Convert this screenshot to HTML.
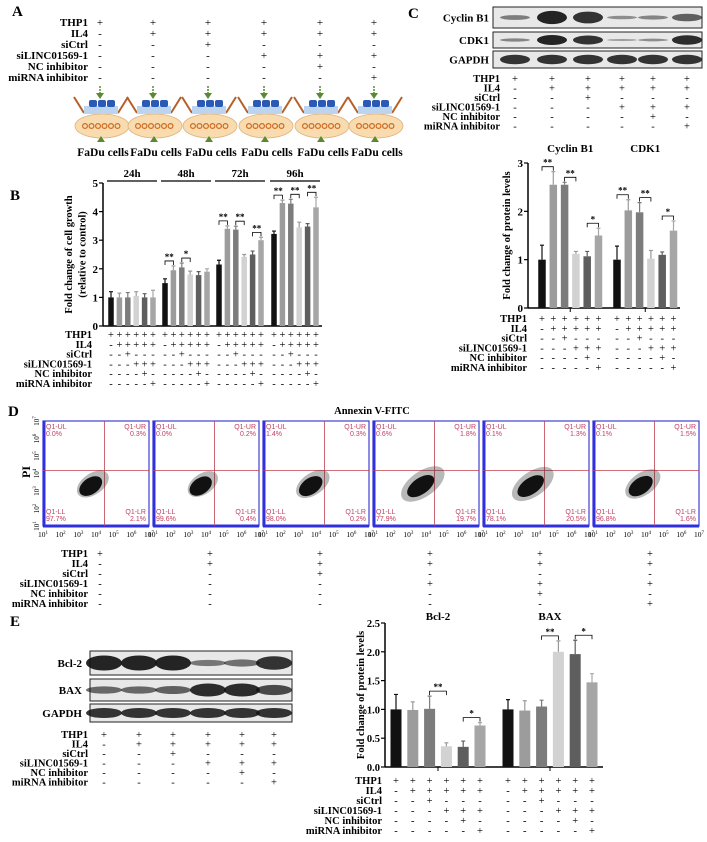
<!DOCTYPE html>
<html><head><meta charset="utf-8"><style>
body{margin:0;background:#fff;}
svg{display:block;font-family:"Liberation Serif",serif;font-weight:bold;}
</style></head><body>
<svg id="fig" width="707" height="842" viewBox="0 0 707 842">
<text x="12" y="16" font-size="15">A</text>
<text x="10" y="200" font-size="15">B</text>
<text x="408" y="18" font-size="15">C</text>
<text x="8" y="416" font-size="15">D</text>
<text x="10" y="626" font-size="15">E</text>
<g id="root"></g>
</svg>
<script>
const NS="http://www.w3.org/2000/svg";
const root=document.getElementById('root');
function mk(tag,attrs,parent,txt){const e=document.createElementNS(NS,tag);for(const k in attrs)e.setAttribute(k,attrs[k]);if(txt!==undefined)e.textContent=txt;(parent||root).appendChild(e);return e;}

const condNames=["THP1","IL4","siCtrl","siLINC01569-1","NC inhibitor","miRNA inhibitor"];
const condMatrix=[["+","+","+","+","+","+"],["-","+","+","+","+","+"],["-","-","+","-","-","-"],["-","-","-","+","+","+"],["-","-","-","-","+","-"],["-","-","-","-","-","+"]];

function condTable(name,labelX,rowY,cols,fs,showLabels){
  const g=mk('g',{});
  
  
  condNames.forEach((n,r)=>{
    if(showLabels!==false){const t=mk('text',{x:labelX,y:rowY[r],'font-size':fs,'text-anchor':'end'},g,n);
    
    }
    cols.forEach((cx,c)=>{const t=mk('text',{x:cx,y:rowY[r],'font-size':fs,'text-anchor':'middle','font-weight':'normal'},g,condMatrix[r][c%6]);
      
      });
  });
}
function rows(y0,dy){return [0,1,2,3,4,5].map(i=>y0+i*dy);}

/* ---------- Panel A ---------- */
const aCols=[100,153,208,264,320,374];
condTable('panel-a-conditions',88,rows(26,11),aCols,11);
aCols.forEach((cx,i)=>{
  const g=mk('g',{});
  
  
  mk('line',{x1:cx,y1:86,x2:cx,y2:95,stroke:'#5a8a30','stroke-width':1.5,'stroke-dasharray':'2,1'},g);
  mk('path',{d:`M${cx-4} 93 L${cx+4} 93 L${cx} 99 Z`,fill:'#5a8a30'},g);
  mk('ellipse',{cx:cx+2,cy:126,rx:27,ry:12,fill:'#f8dcb0',stroke:'#e0b07a','stroke-width':0.8},g);
  mk('path',{d:`M${cx-26} 97 L${cx-16} 113 M${cx+28} 97 L${cx+18} 113`,stroke:'#b5602a','stroke-width':2,fill:'none'},g);
  mk('rect',{x:cx-16,y:106,width:34,height:8,fill:'#bcd4ee'},g);
  for(let k=0;k<3;k++)mk('rect',{x:cx-11+k*9,y:100,width:8,height:7,rx:2,fill:'#2a5ab5'},g);
  for(let k=0;k<6;k++)mk('circle',{cx:cx-15+k*6.5,cy:126,r:2.4,fill:'none',stroke:'#d06a20','stroke-width':1.2},g);
  mk('path',{d:`M${cx-3} 142 L${cx+5} 142 L${cx+1} 136 Z`,fill:'#5a8a30'},g);
  const t=mk('text',{x:cx+3,y:156,'font-size':11.5,'text-anchor':'middle'},g,'FaDu cells');
  
  
});

/* ---------- Blots ---------- */
function blot(name,x,y,w,h,bands,cols,label,lx,rx){
  const g=mk('g',{});
  
  
  mk('rect',{x:x,y:y,width:w,height:h,fill:'#e8e8e8',stroke:'#222','stroke-width':1},g);
  bands.forEach((b,i)=>{mk('ellipse',{cx:cols[i],cy:y+h/2,rx:rx,ry:Math.max(1,h*0.33*b),fill:'#111',opacity:0.25+0.7*b},g);});
  mk('text',{x:lx,y:y+h/2+4,'font-size':11,'text-anchor':'end'},g,label);
}
const cCols=[515,552,588,622,653,687];
blot('blot-cyclin-b1',493,7,209,21,[0.35,0.95,0.85,0.25,0.3,0.55],cCols,'Cyclin B1',489,15);
blot('blot-cdk1',493,32,209,16,[0.3,0.95,0.85,0.15,0.25,0.9],cCols,'CDK1',489,15);
blot('blot-gapdh-c',493,51,209,17,[0.85,0.85,0.85,0.85,0.85,0.85],cCols,'GAPDH',489,15);
condTable('panel-c-blot-conditions',500,rows(82,9.5),cCols,10.5);

const eCols=[104,139,173,208,242,274];
blot('blot-bcl2',90,651,202,24,[0.95,0.95,0.95,0.4,0.45,0.85],eCols,'Bcl-2',82,18);
blot('blot-bax',90,679,202,22,[0.5,0.5,0.55,0.9,0.9,0.7],eCols,'BAX',82,18);
blot('blot-gapdh-e',90,704,202,18,[0.85,0.85,0.85,0.85,0.85,0.85],eCols,'GAPDH',82,18);
condTable('panel-e-blot-conditions',88,rows(738,9.5),eCols,10.5);

/* ---------- Bar charts ---------- */
const barColors=['#111111','#9c9c9c','#7c7c7c','#d2d2d2','#5e5e5e','#a6a6a6'];

// Panel B data
const bGroups=["24h","48h","72h","96h"];
const bValues=[[1.0,1.0,1.0,1.05,1.0,1.0],[1.5,1.95,2.05,1.8,1.78,1.9],[2.15,3.4,3.37,2.42,2.5,3.0],[3.22,4.3,4.28,3.45,3.48,4.15]];
const bErrors=[[0.2,0.15,0.17,0.15,0.13,0.25],[0.15,0.15,0.15,0.12,0.12,0.1],[0.15,0.1,0.12,0.08,0.12,0.1],[0.1,0.1,0.15,0.18,0.1,0.35]];
const bTicks=[0,1,2,3,4,5];
const bSig=[[],[[0,1,"**"],[2,3,"*"]],[[0,1,"**"],[2,3,"**"],[4,5,"**"]],[[0,1,"**"],[2,3,"**"],[4,5,"**"]]];

// Panel C data
const cGroups=["Cyclin B1","CDK1"];
const cValues=[[1.0,2.55,2.55,1.12,1.07,1.5],[1.0,2.02,1.98,1.02,1.1,1.6]];
const cErrors=[[0.3,0.27,0.05,0.05,0.1,0.15],[0.28,0.22,0.2,0.17,0.06,0.2]];
const cTicks=[0,1,2,3];
const cSig=[[[0,1,"**"],[2,3,"**"],[4,5,"*"]],[[0,1,"**"],[2,3,"**"],[4,5,"*"]]];

// Panel E data
const eGroups=["Bcl-2","BAX"];
const eValues=[[1.0,0.99,1.01,0.36,0.35,0.72],[1.0,0.98,1.05,2.0,1.96,1.47]];
const eErrors=[[0.26,0.14,0.22,0.06,0.1,0.05],[0.17,0.17,0.11,0.19,0.24,0.15]];
const eTicks=["0.0","0.5","1.0","1.5","2.0","2.5"];
const eSig=[[[2,3,"**"],[4,5,"*"]],[[2,3,"**"],[4,5,"*"]]];

function barChart(o){
  const g=mk('g',{});
  
  
  const ymax=parseFloat(o.ticks[o.ticks.length-1]);
  const Y=v=>o.y0-(v/ymax)*(o.y0-o.yTop);
  const X=(gi,bi)=>o.gx[gi]+bi*o.pitch;
  const ax=mk('line',{x1:o.ax,y1:o.yTop,x2:o.ax,y2:o.y0,stroke:'#000','stroke-width':1.5},g);
  
  
  const xa=mk('line',{x1:o.ax,y1:o.y0,x2:o.xEnd,y2:o.y0,stroke:'#000','stroke-width':1.5},g);
  
  
  o.ticks.forEach(t=>{const v=parseFloat(t);
    mk('line',{x1:o.ax-4,y1:Y(v),x2:o.ax,y2:Y(v),stroke:'#000','stroke-width':1.2},g);
    const tl=mk('text',{x:o.ax-5,y:Y(v)+4,'font-size':o.tfs,'text-anchor':'end'},g,t);
    
    });
  const yl=mk('text',{x:0,y:0,'font-size':o.lfs,'text-anchor':'middle',transform:`translate(${o.ylx},${(o.y0+o.yTop)/2}) rotate(-90)`},g);
  o.ylabel.forEach((l,i)=>{mk('tspan',{x:0,dy:i?o.lfs+3:0},yl,l);});
  
  
  o.values.forEach((vals,gi)=>{
    vals.forEach((v,bi)=>{
      const cx=X(gi,bi);
      const r=mk('rect',{x:cx-o.bw/2,y:Y(v),width:o.bw,height:o.y0-Y(v),fill:barColors[bi]},g);
      
      
      const et=Y(v+o.errors[gi][bi]);
      const eb=mk('path',{d:`M${cx} ${Y(v)} V${et} M${cx-2} ${et} H${cx+2}`,stroke:barColors[bi]==='#d2d2d2'?'#999':barColors[bi],'stroke-width':1.2,fill:'none'},g);
      
      
    });
    o.sig[gi].forEach(s=>{
      const top=Math.max(o.values[gi][s[0]]+o.errors[gi][s[0]],o.values[gi][s[1]]+o.errors[gi][s[1]]);
      const yy=Y(top)-o.sigGap;
      const x1=X(gi,s[0]),x2=X(gi,s[1]);
      const br=mk('path',{d:`M${x1} ${yy+4} V${yy} H${x2} V${yy+4}`,stroke:'#000','stroke-width':0.8,fill:'none'},g);
      
      
      const st=mk('text',{x:(x1+x2)/2,y:yy-1,'font-size':9,'text-anchor':'middle'},g,s[2]);
      
      
    });
    const cx=(X(gi,0)+X(gi,5))/2;
    const gt=mk('text',{x:cx,y:o.gty,'font-size':o.gfs,'text-anchor':'middle'},g,o.groups[gi]);
    
    
    if(o.groupLine){
      mk('line',{x1:X(gi,0)-4,y1:o.gty+4,x2:X(gi,5)+4,y2:o.gty+4,stroke:'#000','stroke-width':1.2},g);
    } else {
      mk('line',{x1:cx,y1:o.y0,x2:cx,y2:o.y0+4,stroke:'#000','stroke-width':1},g);
    }
  });
  const cols=[];o.values.forEach((vals,gi)=>vals.forEach((v,bi)=>cols.push(X(gi,bi))));
  condTable(o.name+'-conditions',o.condLabelX,o.condRows,cols,o.cfs);
}

barChart({name:'chart-cell-growth',groups:bGroups,values:bValues,errors:bErrors,ticks:bTicks.map(String),sig:bSig,
  ax:103,y0:326,yTop:183,xEnd:322,gx:[111,165,219,274],pitch:8.4,bw:5.5,tfs:11,lfs:10.5,ylx:72,
  ylabel:['Fold change of cell growth','(relative to control)'],gty:177,gfs:11,groupLine:true,sigGap:5,
  condLabelX:92,condRows:rows(338,9.8),cfs:10.5});

barChart({name:'chart-cyclin-cdk1',groups:cGroups,values:cValues,errors:cErrors,ticks:cTicks.map(String),sig:cSig,
  ax:528,y0:308,yTop:163,xEnd:680,gx:[542,617],pitch:11.3,bw:7.5,tfs:11,lfs:10.5,ylx:510,
  ylabel:['Fold change of protein levels'],gty:152,gfs:11,groupLine:false,sigGap:5,
  condLabelX:527,condRows:rows(322,9.8),cfs:10.5});

barChart({name:'chart-bcl2-bax',groups:eGroups,values:eValues,errors:eErrors,ticks:eTicks,sig:eSig,
  ax:385,y0:767,yTop:623,xEnd:603,gx:[396,508],pitch:16.8,bw:11,tfs:10.5,lfs:10.5,ylx:364,
  ylabel:['Fold change of protein levels'],gty:620,gfs:11,groupLine:false,sigGap:5,
  condLabelX:382,condRows:rows(784,10),cfs:10.5});

/* ---------- Panel D flow plots ---------- */
const dPanels=[{ul:"0.0%",ur:"0.3%",ll:"97.7%",lr:"2.1%",spread:0.2},{ul:"0.0%",ur:"0.2%",ll:"99.6%",lr:"0.4%",spread:0.1},
{ul:"1.4%",ur:"0.3%",ll:"98.0%",lr:"0.2%",spread:0.3},{ul:"0.6%",ur:"1.8%",ll:"77.9%",lr:"19.7%",spread:0.9},
{ul:"0.1%",ur:"1.3%",ll:"78.1%",lr:"20.5%",spread:0.8},{ul:"0.1%",ur:"1.5%",ll:"96.8%",lr:"1.6%",spread:0.4}];
const dTitle=mk('text',{x:372,y:414,'font-size':10.5,'text-anchor':'middle'},root,'Annexin V-FITC');


const pi=mk('text',{x:0,y:0,'font-size':12,'text-anchor':'middle',transform:'translate(30,472) rotate(-90)'},root,'PI');


const dX=[43,153,263,373,483,593];const dW=106,dY=421,dH=105;
const decades=["1","2","3","4","5","6","7"];
dPanels.forEach((p,i)=>{
  const x=dX[i];
  const g=mk('g',{});
  
  
  mk('rect',{x:x,y:dY,width:dW,height:dH,fill:'#fff',stroke:'#4040d0','stroke-width':1.2},g);
  mk('line',{x1:x,y1:dY+dH,x2:x+dW,y2:dY+dH,stroke:'#3030e0','stroke-width':3},g);
  mk('line',{x1:x+1,y1:dY,x2:x+1,y2:dY+dH,stroke:'#3030e0','stroke-width':3},g);
  const qx=x+dW*0.58,qy=dY+dH*0.47;
  mk('line',{x1:qx,y1:dY,x2:qx,y2:dY+dH,stroke:'#c04050','stroke-width':0.8},g);
  mk('line',{x1:x,y1:qy,x2:x+dW,y2:qy,stroke:'#c04050','stroke-width':0.8},g);
  mk('ellipse',{cx:x+dW*0.47,cy:dY+dH*0.6,rx:16+p.spread*10,ry:10+p.spread*3,fill:'#333',opacity:0.35,transform:`rotate(-35 ${x+dW*0.47} ${dY+dH*0.6})`},g);
  mk('ellipse',{cx:x+dW*0.45,cy:dY+dH*0.62,rx:12+p.spread*4,ry:8,fill:'#111',transform:`rotate(-35 ${x+dW*0.45} ${dY+dH*0.62})`},g);
  const lab=[["Q1-UL",p.ul,x+3,dY+8,'start'],["Q1-UR",p.ur,x+dW-3,dY+8,'end'],["Q1-LL",p.ll,x+3,dY+dH-12,'start'],["Q1-LR",p.lr,x+dW-3,dY+dH-12,'end']];
  lab.forEach(l=>{mk('text',{x:l[2],y:l[3],'font-size':7,fill:'#c04060','font-weight':'normal','text-anchor':l[4],'font-family':'Liberation Sans,sans-serif'},g,l[0]);
    mk('text',{x:l[2],y:l[3]+7,'font-size':7,fill:'#c04060','font-weight':'normal','text-anchor':l[4],'font-family':'Liberation Sans,sans-serif'},g,l[1]);});
  decades.forEach((d,k)=>{
    const tx=x+k*dW/6;
    const t=mk('text',{x:tx,y:dY+dH+11,'font-size':7.5,'text-anchor':'middle','font-weight':'normal'},g);
    mk('tspan',{},t,'10');mk('tspan',{dy:-3,'font-size':5},t,d);
    
    
    if(i===0){const ty=dY+dH-k*dH/6;
      const yt=mk('text',{x:0,y:0,'font-size':7,'text-anchor':'middle','font-weight':'normal',transform:`translate(${x-4},${ty}) rotate(-90)`},g);
      mk('tspan',{},yt,'10');mk('tspan',{dy:-3,'font-size':5},yt,d);
      
      }
  });
});
condTable('panel-d-conditions',88,rows(557,10),[100,210,320,430,540,650],10.5);
</script>
</body></html>
